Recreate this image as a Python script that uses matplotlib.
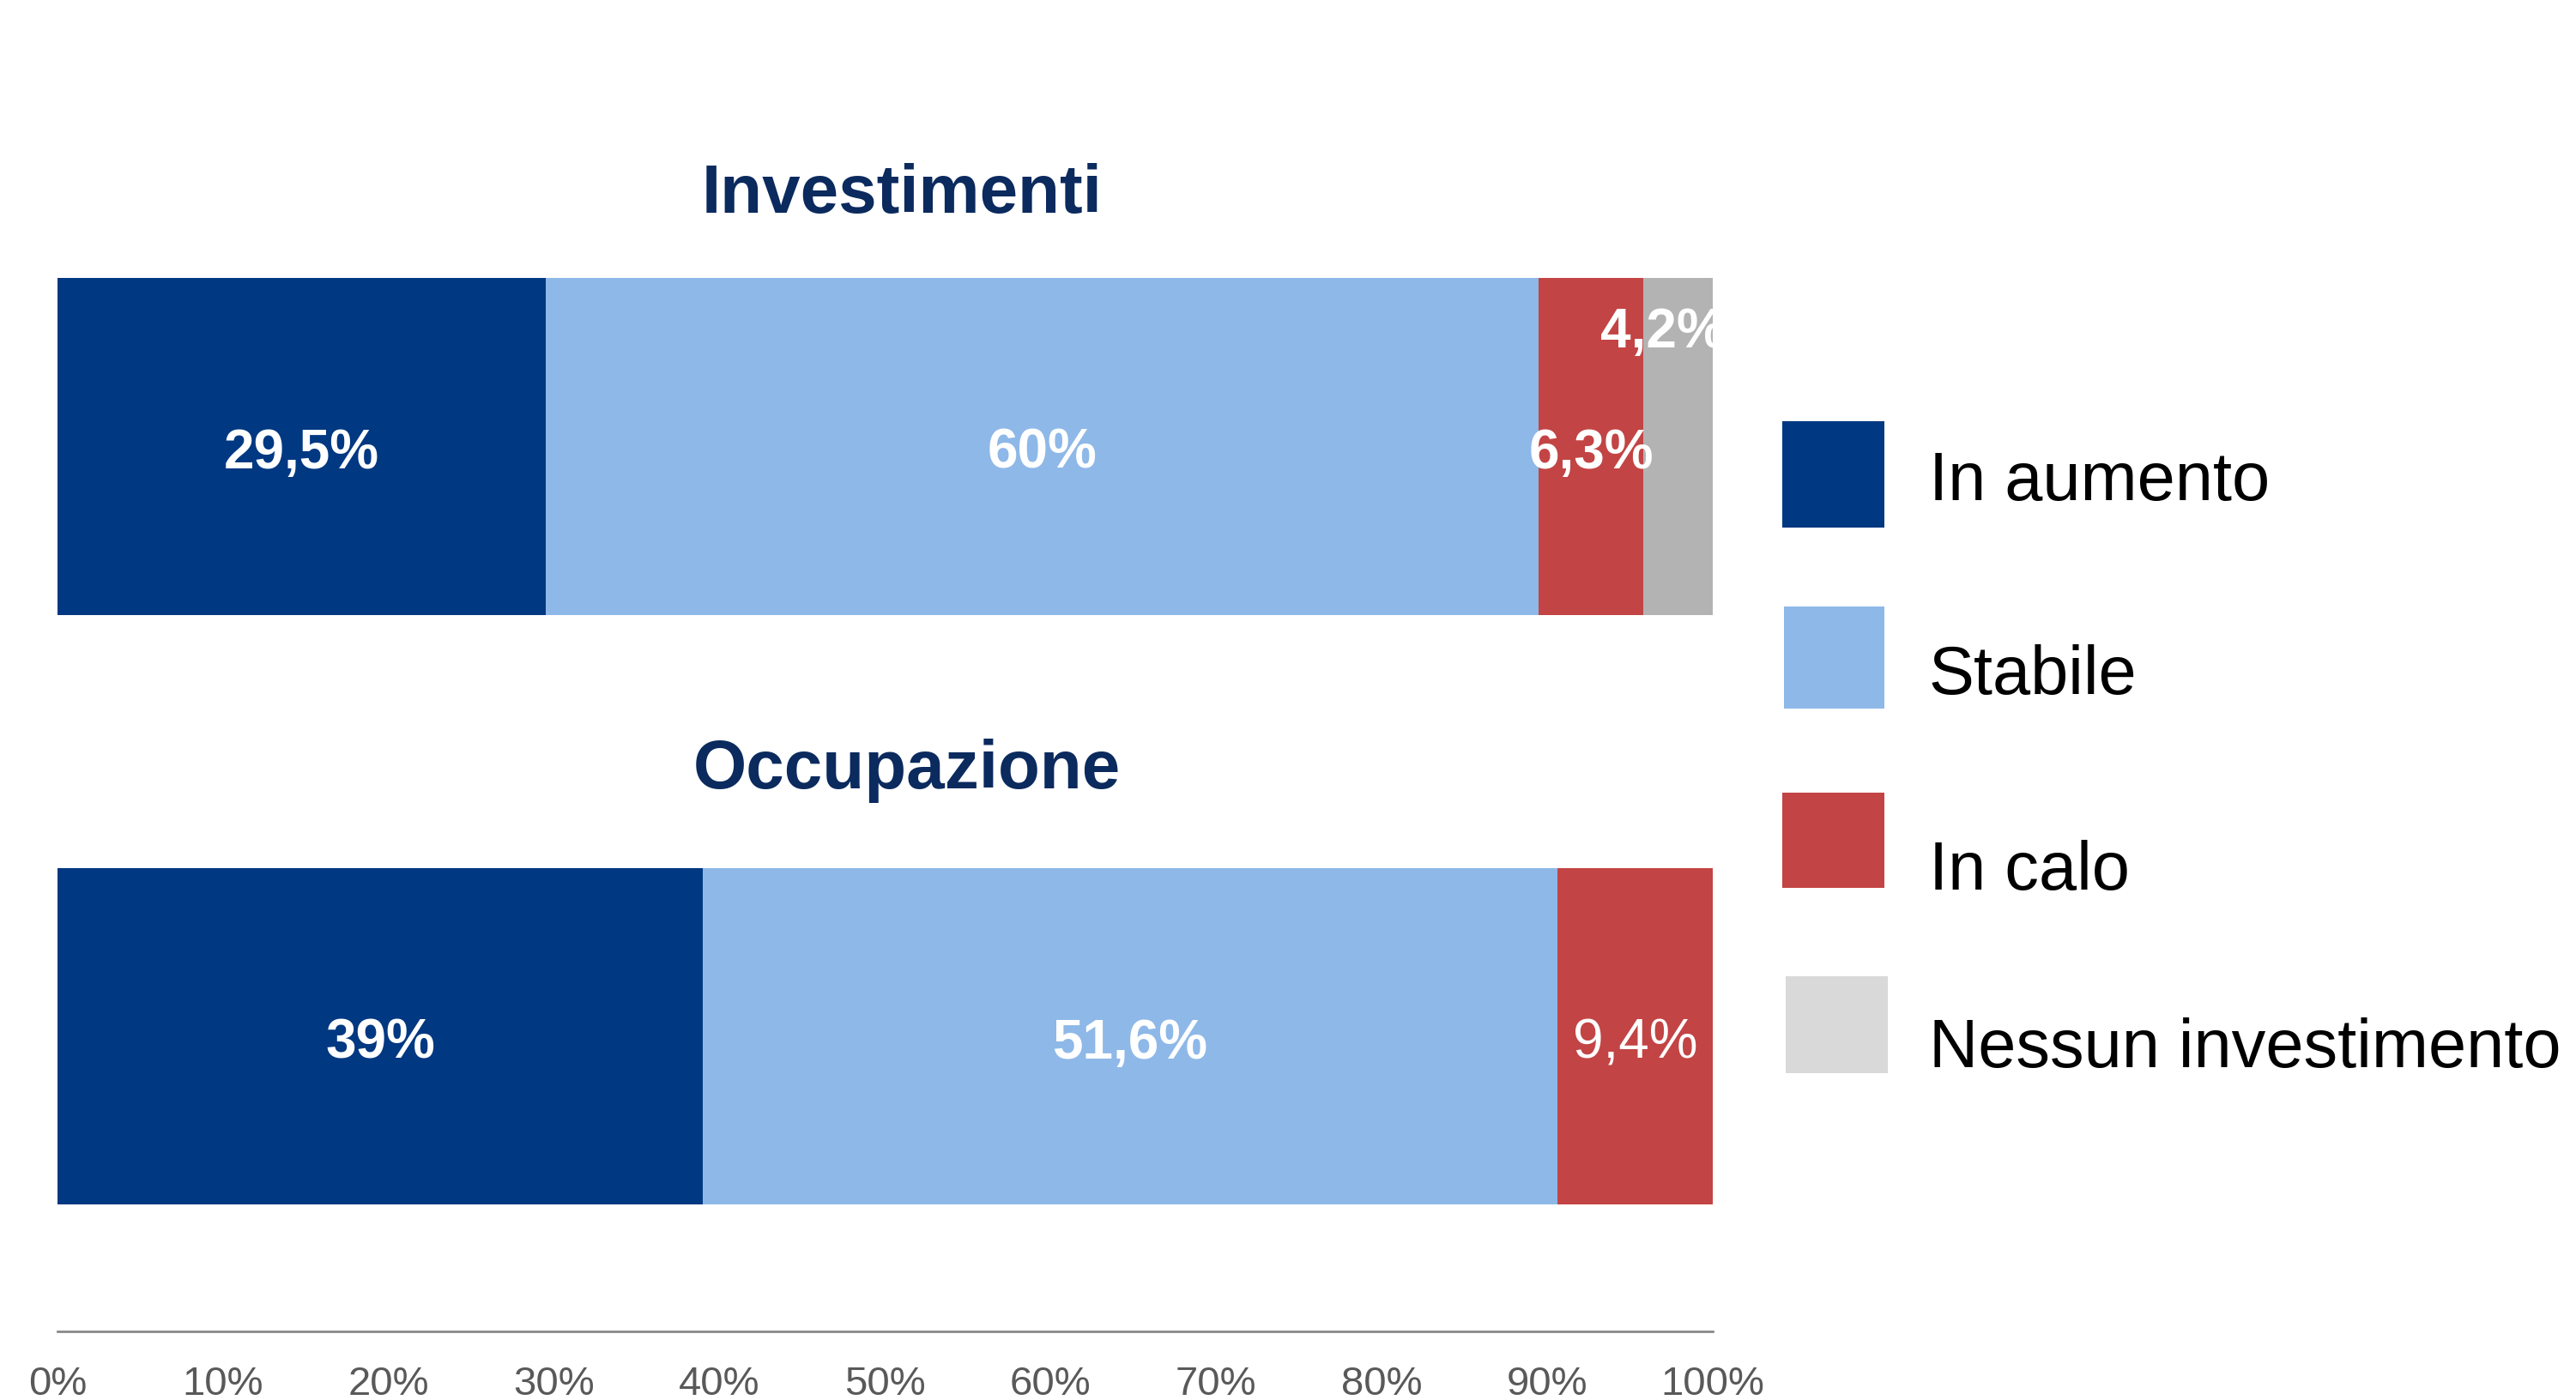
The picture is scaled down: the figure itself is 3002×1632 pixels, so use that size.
import matplotlib.pyplot as plt
from matplotlib.patches import Rectangle

plt.rcParams["font.family"] = ["Liberation Sans", "DejaVu Sans"]

# data
groups = ["Investimenti", "Occupazione"]
series = ["In aumento", "Stabile", "In calo", "Nessun investimento"]
in_aumento = [29.5, 39.0]
stabile = [60.0, 51.6]
in_calo = [6.3, 9.4]
nessuno = [4.2, 0.0]
label_aumento = ["29,5%", "39%"]
label_stabile = ["60%", "51,6%"]
label_calo = ["6,3%", "9,4%"]
label_nessuno = ["4,2%", ""]
ticks = list(range(0, 101, 10))
tick_labels = [f"{t}%" for t in ticks]

BAR_COLORS = ["#003882", "#8EB8E8", "#C34444", "#B3B3B3"]
LEGEND_COLORS = ["#003882", "#8EB8E8", "#C34444", "#D9D9D9"]
TITLE_COLOR = "#0B2A5E"

W, H = 3002, 1633
fig = plt.figure(figsize=(W / 200, H / 200), dpi=200)
ax = fig.add_axes([67 / W, 80 / H, 1929 / W, 1403 / H])

ypos = [1, 0]
bar_h = 0.571
values = [in_aumento, stabile, in_calo, nessuno]
labels = [label_aumento, label_stabile, label_calo, label_nessuno]

for gi, y in enumerate(ypos):
    left = 0.0
    for si in range(4):
        v = values[si][gi]
        if v > 0:
            ax.barh(y, v, left=left, height=bar_h, color=BAR_COLORS[si], linewidth=0)
            txt = labels[si][gi]
            cx = left + v / 2
            ty = y - 0.011
            weight = "bold"
            if si == 3:
                # small slice: label lifted up and nudged left, clipped at the axes edge
                cx -= 0.9
                ty = y + 0.36 * bar_h - 0.011
            if gi == 1 and si == 2:
                weight = "normal"
            ax.text(cx, ty, txt, ha="center", va="center", color="white",
                    fontsize=23, fontweight=weight, clip_on=True)
        left += v

title_x = [51.0, 51.3]
title_y = [1.428, 0.451]
for gi, name in enumerate(groups):
    ax.text(title_x[gi], title_y[gi], name, ha="center", va="center", fontsize=28.8,
            fontweight="bold", color=TITLE_COLOR)

ax.set_xlim(0, 100)
ax.set_ylim(-0.5, 1.54)
ax.set_xticks(ticks)
ax.set_xticklabels(tick_labels, fontsize=17, color="#595959")
ax.set_yticks([])
ax.tick_params(axis="x", length=0, pad=14)
for s in ["top", "right", "left"]:
    ax.spines[s].set_visible(False)
ax.spines["bottom"].set_color("#898989")
ax.spines["bottom"].set_linewidth(1.0)

# legend drawn by hand (positions measured on the 1568x853 preview)
def fx(x):
    return x / 1568


def fy(y):
    return 1 - y / 853


leg_boxes = [(1085, 257, 1147, 322), (1086, 370, 1147, 432),
             (1085, 483, 1147, 541), (1087, 595, 1149, 654)]
leg_text_y = [294, 412, 531, 639]
for i, name in enumerate(series):
    x0, y0, x1, y1 = leg_boxes[i]
    fig.add_artist(Rectangle((fx(x0), fy(y1)), fx(x1) - fx(x0), fy(y0) - fy(y1),
                             transform=fig.transFigure, color=LEGEND_COLORS[i], linewidth=0))
    fig.text(fx(1174), fy(leg_text_y[i]), name, ha="left", va="center",
             fontsize=28.6, color="black")

fig.savefig("out.png", dpi=200, facecolor="white")
